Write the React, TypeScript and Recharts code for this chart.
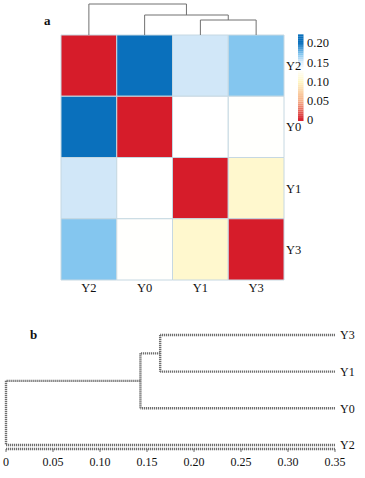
import React from 'react';
import { ComposedChart, XAxis, YAxis, Scatter, ReferenceArea, ReferenceLine } from 'recharts';

// panel a: distance matrix, rows/cols in display order
const labelsA = ['Y2', 'Y0', 'Y1', 'Y3'];
const distY2 = [0, 0.2, 0.153, 0.17];
const distY0 = [0.2, 0, 0.13, 0.129];
const distY1 = [0.153, 0.13, 0, 0.105];
const distY3 = [0.17, 0.129, 0.105, 0];
const matrixA = [distY2, distY0, distY1, distY3];

// dendrogram over the heatmap (hclust style: leaves 0..3, new nodes 4..)
const mergesA: [number, number][] = [[2, 3], [1, 4], [0, 5]];
const heightsA = [0.105, 0.14, 0.217];
const barTicks = [0, 0.05, 0.1, 0.15, 0.2];

// panel b: leaves bottom to top
const labelsB = ['Y2', 'Y0', 'Y1', 'Y3'];
const mergesB: [number, number][] = [[3, 2], [4, 1], [5, 0]];
const heightsB = [0.164, 0.143, 0];
const distTicks = [0, 0.05, 0.1, 0.15, 0.2, 0.25, 0.3, 0.35];

const FONT = '"Liberation Serif", "DejaVu Serif", serif';
const TREE = '#707070';
const DOTTED = '#6e6e6e';

const stops: [number, number[]][] = [
  [0, [214, 28, 42]],
  [0.05, [246, 178, 140]],
  [0.1, [255, 246, 196]],
  [0.13, [255, 255, 255]],
  [0.15, [222, 237, 250]],
  [0.17, [132, 198, 239]],
  [0.2, [10, 112, 188]],
];

function colorOf(v: number) {
  if (v <= stops[0][0]) return `rgb(${stops[0][1].join(',')})`;
  for (let i = 1; i < stops.length; i++) {
    const [v1, c1] = stops[i];
    const [v0, c0] = stops[i - 1];
    if (v <= v1) {
      const t = (v - v0) / (v1 - v0);
      const c = c0.map((a, k) => Math.round(a + (c1[k] - a) * t));
      return `rgb(${c.join(',')})`;
    }
  }
  return `rgb(${stops[stops.length - 1][1].join(',')})`;
}

// returns segments as [pos, height] pairs
function treeSegments(n: number, merges: [number, number][], heights: number[], leafH: number, pos0: number) {
  const pos = Array.from({ length: n }, (_, i) => i + pos0);
  const hs = Array.from({ length: n }, () => leafH);
  const segs: [number, number][][] = [];
  merges.forEach(([a, b], k) => {
    const h = heights[k];
    segs.push([[pos[a], hs[a]], [pos[a], h]]);
    segs.push([[pos[b], hs[b]], [pos[b], h]]);
    segs.push([[pos[a], h], [pos[b], h]]);
    pos.push((pos[a] + pos[b]) / 2);
    hs.push(h);
  });
  return segs;
}

const cells = matrixA.flatMap((row, r) => row.map((v, c) => ({ x: c + 0.5, y: r + 0.5, r, c, v })));
const segsA = treeSegments(4, mergesA, heightsA, 0, 0.5);
const segsB = treeSegments(4, mergesB, heightsB, 0.35, 0);

const tickStyle = { fontFamily: FONT, fontSize: 12.5, fill: '#111' };
const fmt = (v: number) => (v === 0 ? '0' : v.toFixed(2));

function PanelA() {
  const slices = Array.from({ length: 45 }, (_, i) => i * 0.005);
  return (
    <ComposedChart width={365} height={300} margin={{ top: 35, right: 0, bottom: 0, left: 61 }}>
      <XAxis xAxisId="col" dataKey="x" type="number" domain={[0, 4]} allowDataOverflow ticks={[0.5, 1.5, 2.5, 3.5]}
        tickFormatter={(v) => labelsA[Math.floor(v)]} axisLine={false} tickLine={false}
        tickSize={0} tickMargin={3} height={20} tick={tickStyle} interval={0} />
      <XAxis xAxisId="treeX" type="number" domain={[-1.561, 0]} reversed allowDataOverflow hide />
      <YAxis yAxisId="axisRow" dataKey="y" orientation="right" type="number" domain={[0, 4]} reversed allowDataOverflow
        ticks={[0.5, 1.5, 2.5, 3.5]} tickFormatter={(v) => labelsA[Math.floor(v)]} axisLine={false}
        tickLine={false} tickSize={0} tickMargin={2} width={14} tick={tickStyle} interval={0} />
      <YAxis yAxisId="colorBar" orientation="right" type="number" domain={[-0.4156, 0.2208]} allowDataOverflow
        ticks={barTicks} tickFormatter={fmt} axisLine={false} tickLine={false} tickSize={0}
        tickMargin={9} width={67} tick={tickStyle} interval={0} />
      <YAxis yAxisId="tree" type="number" domain={[-1.715, 0]} allowDataOverflow hide />

      {cells.map((d) => (
        <ReferenceArea key={`c${d.r}-${d.c}`} xAxisId="col" yAxisId="axisRow" x1={d.c} x2={d.c + 1}
          y1={d.r} y2={d.r + 1} fill={colorOf(d.v)} fillOpacity={1} stroke="#c6d8e2" strokeWidth={1} />
      ))}
      <Scatter xAxisId="col" yAxisId="axisRow" data={cells} dataKey="y" isAnimationActive={false}
        shape={() => <g />} />

      {slices.map((v) => (
        <ReferenceArea key={`s${v}`} xAxisId="col" yAxisId="colorBar" x1={4.251} x2={4.35}
          y1={Math.max(v - 0.0025, -0.003)} y2={v + 0.0025} fill={colorOf(v)} fillOpacity={1}
          ifOverflow="visible" />
      ))}

      {segsA.map((s, i) => (
        <ReferenceLine key={`t${i}`} xAxisId="col" yAxisId="tree" ifOverflow="visible"
          segment={[{ x: s[0][0], y: s[0][1] }, { x: s[1][0], y: s[1][1] }]} stroke={TREE} strokeWidth={1} />
      ))}
      {segsA.map((s, i) => (
        <ReferenceLine key={`l${i}`} xAxisId="treeX" yAxisId="axisRow" ifOverflow="visible"
          segment={[{ x: s[0][1], y: s[0][0] }, { x: s[1][1], y: s[1][0] }]} stroke={TREE} strokeWidth={1} />
      ))}
    </ComposedChart>
  );
}

function PanelB() {
  const leaves = labelsB.map((name, i) => ({ name, x: 0.35, y: i }));
  return (
    <ComposedChart width={365} height={178} margin={{ top: 20, right: 0, bottom: 0, left: 6 }}>
      <XAxis xAxisId="dist" dataKey="x" type="number" domain={[0, 0.35]} allowDataOverflow ticks={distTicks}
        tickFormatter={fmt} interval={0} height={29} tickSize={3} tickMargin={5}
        axisLine={{ stroke: DOTTED, strokeWidth: 2.4, strokeDasharray: '1.2 0.8' }}
        tickLine={{ stroke: DOTTED }} tick={{ ...tickStyle, fontSize: 12 }} />
      <YAxis yAxisId="leaf" dataKey="y" orientation="right" type="number" domain={[-0.11, 3.41]} allowDataOverflow
        ticks={[0, 1, 2, 3]} tickFormatter={(v) => labelsB[v]} interval={0} axisLine={false}
        tickLine={false} tickSize={0} tickMargin={5} width={30} tick={{ ...tickStyle, fontSize: 12 }} />
      <Scatter xAxisId="dist" yAxisId="leaf" data={leaves} dataKey="y" isAnimationActive={false}
        shape={() => <g />} />
      {segsB.map((s, i) => (
        <ReferenceLine key={`b${i}`} xAxisId="dist" yAxisId="leaf" ifOverflow="visible"
          segment={[{ x: s[0][1], y: s[0][0] }, { x: s[1][1], y: s[1][0] }]}
          stroke={DOTTED} strokeWidth={2.4} strokeDasharray="1.2 0.8" />
      ))}
    </ComposedChart>
  );
}

export default function App() {
  const letter: React.CSSProperties = { position: 'absolute', fontFamily: FONT, fontSize: 13, lineHeight: '16px', color: '#111', fontWeight: 600 };
  return (
    <div style={{ position: 'absolute', left: 0, top: 0, width: 365, height: 478, background: '#fff' }}>
      <div style={{ position: 'absolute', left: 0, top: 0 }}>
        <PanelA />
      </div>
      <div style={{ position: 'absolute', left: 0, top: 300 }}>
        <PanelB />
      </div>
      <span style={{ ...letter, left: 44, top: 13 }}>a</span>
      <span style={{ ...letter, left: 30, top: 327 }}>b</span>
    </div>
  );
}
